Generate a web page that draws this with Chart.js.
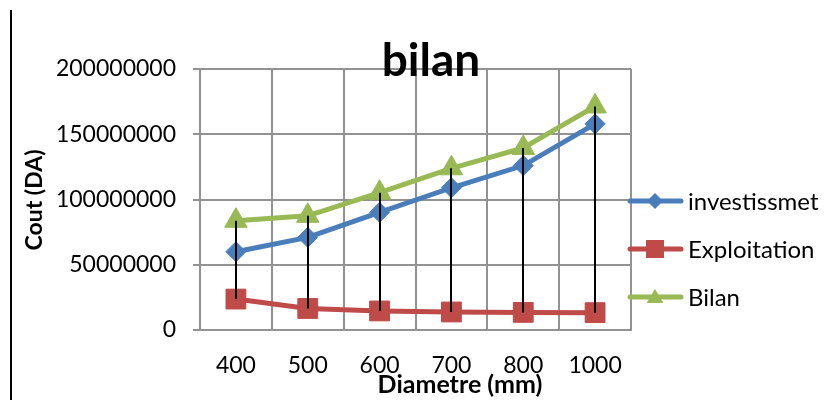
<!DOCTYPE html>
<html>
<head>
<meta charset="utf-8">
<script src="https://cdn.jsdelivr.net/npm/chart.js@4/dist/chart.umd.min.js"></script>
<style>
  html, body { margin: 0; padding: 0; background: #fff; }
  #wrap { width: 840px; height: 400px; position: relative; }
</style>
</head>
<body>
<div id="wrap"><canvas id="chart"></canvas></div>
<script>
const diametres = ['400', '500', '600', '700', '800', '1000'];
const investissement = [60000000, 71000000, 90200000, 109000000, 126000000, 158000000];
const exploitation = [23700000, 16500000, 14600000, 13800000, 13500000, 13300000];
const bilan = [83700000, 87500000, 105200000, 123900000, 139500000, 171300000];
const yTicks = [0, 50000000, 100000000, 150000000, 200000000];

const FONT = 'Lato, "Open Sans", sans-serif';
const BLUE = '#4a7ebb', RED = '#be4b48', GREEN = '#98b954';
const GRID = '#929292';

const series = [
    { label: 'investissmet', data: investissement, color: BLUE, style: 'rectRot', r: 10 },
    { label: 'Exploitation', data: exploitation, color: RED, style: 'rect', r: 14 },
    { label: 'Bilan', data: bilan, color: GREEN, style: 'triangle', r: 13 }
];

// petits marqueurs pour la legende
function marker(ctx, style, x, y, s) {
    ctx.beginPath();
    if (style === 'rectRot') {
        ctx.moveTo(x, y - s); ctx.lineTo(x + s, y); ctx.lineTo(x, y + s); ctx.lineTo(x - s, y);
    } else if (style === 'rect') {
        ctx.rect(x - s, y - s, 2 * s, 2 * s);
    } else {
        ctx.moveTo(x, y - s); ctx.lineTo(x + s * 1.05, y + s * 0.75); ctx.lineTo(x - s * 1.05, y + s * 0.75);
    }
    ctx.closePath();
    ctx.fill();
}

const extras = {
    id: 'extras',
    afterDatasetsDraw(chart) {
        // lignes haut-bas
        const { ctx, scales: { x, y } } = chart;
        ctx.save();
        ctx.strokeStyle = '#000';
        ctx.lineWidth = 2;
        diametres.forEach((_, i) => {
            const vals = series.map(s => s.data[i]);
            const px = Math.round(x.getPixelForValue(i));
            ctx.beginPath();
            ctx.moveTo(px, y.getPixelForValue(Math.min(...vals)));
            ctx.lineTo(px, y.getPixelForValue(Math.max(...vals)));
            ctx.stroke();
        });
        ctx.restore();
    },
    afterDraw(chart) {
        const ctx = chart.ctx;
        ctx.save();
        // trait vertical a gauche
        ctx.fillStyle = '#000';
        ctx.fillRect(10, 10, 2, 390);

        // titre
        ctx.fillStyle = '#000';
        ctx.textAlign = 'center';
        ctx.textBaseline = 'alphabetic';
        ctx.font = 'bold 46px ' + FONT;
        ctx.fillText('bilan', 431, 76);

        // titres des axes
        ctx.font = 'bold 25px ' + FONT;
        ctx.fillText('Diametre (mm)', 460, 393);
        ctx.font = 'bold 23px ' + FONT;
        ctx.translate(42, 200);
        ctx.rotate(-Math.PI / 2);
        ctx.fillText('Cout (DA)', 0, 0);
        ctx.restore();

        // legende
        ctx.save();
        ctx.font = '24px ' + FONT;
        ctx.textAlign = 'left';
        ctx.textBaseline = 'middle';
        const ys = [201, 249, 297];
        series.forEach((s, i) => {
            ctx.strokeStyle = s.color;
            ctx.fillStyle = s.color;
            ctx.lineWidth = 5;
            ctx.lineCap = 'round';
            ctx.beginPath();
            ctx.moveTo(630, ys[i]);
            ctx.lineTo(681, ys[i]);
            ctx.stroke();
            marker(ctx, s.style, 655, ys[i], s.style === 'rect' ? 9 : 8);
            ctx.fillStyle = '#000';
            ctx.fillText(s.label, 688, ys[i] + 1);
        });
        ctx.restore();
    }
};

new Chart(document.getElementById('chart'), {
    type: 'line',
    data: {
        labels: diametres,
        datasets: series.map(s => ({
            label: s.label,
            data: s.data,
            borderColor: s.color,
            backgroundColor: s.color,
            borderWidth: 5,
            pointStyle: s.style,
            pointRadius: s.r,
            pointHoverRadius: s.r,
            pointBorderWidth: 1,
            tension: 0
        }))
    },
    options: {
        responsive: true,
        maintainAspectRatio: false,
        animation: false,
        events: [],
        layout: { padding: { top: 69, right: 209, left: 0, bottom: 0 } },
        plugins: {
            legend: { display: false },
            title: { display: false },
            tooltip: { enabled: false }
        },
        scales: {
            x: {
                offset: true,
                grid: { offset: true, color: GRID, lineWidth: 2, drawTicks: false },
                border: { color: GRID, width: 2 },
                ticks: { color: '#000', font: { family: FONT, size: 23 }, padding: 22, maxRotation: 0 },
                afterFit: s => { s.height = 70; }
            },
            y: {
                min: 0,
                max: 200000000,
                afterBuildTicks: s => { s.ticks = yTicks.map(v => ({ value: v })); },
                grid: { color: GRID, lineWidth: 2, tickLength: 7 },
                border: { color: GRID, width: 2 },
                ticks: { color: '#000', font: { family: FONT, size: 23 }, padding: 17, callback: v => String(v) },
                afterFit: s => { s.width = 200; }
            }
        }
    },
    plugins: [extras]
});
</script>
</body>
</html>
